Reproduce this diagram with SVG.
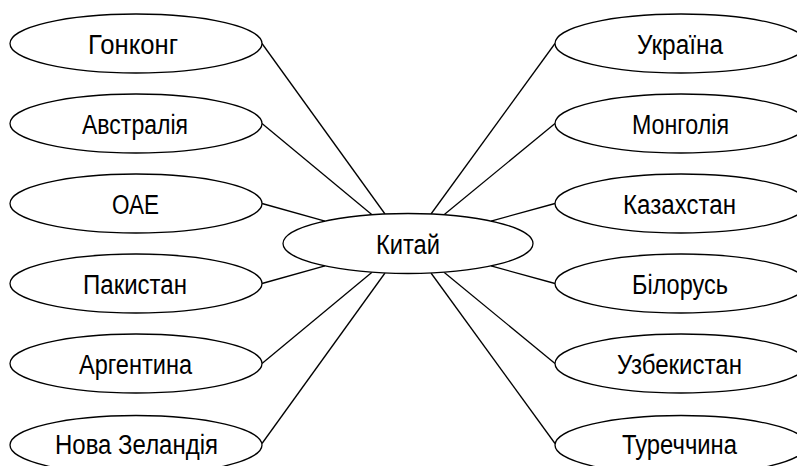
<svg xmlns="http://www.w3.org/2000/svg" width="797" height="466" viewBox="0 0 797 466">
<style>
.n ellipse{fill:#fff;stroke:#000;stroke-width:1.3}
.n text{font-family:"Liberation Sans",Arial,sans-serif;font-size:27px;fill:#000;text-anchor:middle}
#edges line{stroke:#000;stroke-width:1.3}
</style>
<rect width="797" height="466" fill="#fff"/>
<g id="edges">
<line x1="262" y1="43.5" x2="385" y2="214"/>
<line x1="262" y1="123.5" x2="372" y2="214.8"/>
<line x1="262" y1="203.5" x2="325" y2="221.1"/>
<line x1="262" y1="283.5" x2="325" y2="265.9"/>
<line x1="262" y1="363.5" x2="372" y2="272.2"/>
<line x1="262" y1="443.5" x2="385" y2="273"/>
<line x1="555" y1="43.5" x2="431" y2="214"/>
<line x1="555" y1="123.5" x2="444" y2="214.8"/>
<line x1="555" y1="203.5" x2="491" y2="221.1"/>
<line x1="555" y1="283.5" x2="491" y2="265.9"/>
<line x1="555" y1="363.5" x2="444" y2="272.2"/>
<line x1="555" y1="443.5" x2="431" y2="273"/>
</g>
<g id="china" class="n"><ellipse cx="408" cy="243.5" rx="125" ry="30"/><text x="408" y="253.5" textLength="64" lengthAdjust="spacingAndGlyphs">Китай</text></g>
<g id="hongkong" class="n"><ellipse cx="136" cy="43.5" rx="126" ry="29.5"/><text x="133" y="53.5" textLength="90" lengthAdjust="spacingAndGlyphs">Гонконг</text></g>
<g id="australia" class="n"><ellipse cx="136" cy="123.5" rx="126" ry="29.5"/><text x="135" y="133.5" textLength="106" lengthAdjust="spacingAndGlyphs">Австралія</text></g>
<g id="uae" class="n"><ellipse cx="136" cy="203.5" rx="126" ry="29.5"/><text x="135.5" y="213.5" textLength="47" lengthAdjust="spacingAndGlyphs">ОАЕ</text></g>
<g id="pakistan" class="n"><ellipse cx="136" cy="283.5" rx="126" ry="29.5"/><text x="135" y="293.5" textLength="104" lengthAdjust="spacingAndGlyphs">Пакистан</text></g>
<g id="argentina" class="n"><ellipse cx="136" cy="363.5" rx="126" ry="29.5"/><text x="135.5" y="373.5" textLength="113" lengthAdjust="spacingAndGlyphs">Аргентина</text></g>
<g id="newzealand" class="n"><ellipse cx="136" cy="445" rx="126" ry="29.5"/><text x="136.5" y="454" textLength="163" lengthAdjust="spacingAndGlyphs">Нова Зеландія</text></g>
<g id="ukraine" class="n"><ellipse cx="681" cy="43.5" rx="126" ry="29.5"/><text x="680" y="53.5" textLength="86" lengthAdjust="spacingAndGlyphs">Україна</text></g>
<g id="mongolia" class="n"><ellipse cx="681" cy="123.5" rx="126" ry="29.5"/><text x="680.5" y="133.5" textLength="97" lengthAdjust="spacingAndGlyphs">Монголія</text></g>
<g id="kazakhstan" class="n"><ellipse cx="681" cy="203.5" rx="126" ry="29.5"/><text x="679.5" y="213.5" textLength="113" lengthAdjust="spacingAndGlyphs">Казахстан</text></g>
<g id="belarus" class="n"><ellipse cx="681" cy="283.5" rx="126" ry="29.5"/><text x="680" y="293.5" textLength="96" lengthAdjust="spacingAndGlyphs">Білорусь</text></g>
<g id="uzbekistan" class="n"><ellipse cx="681" cy="363.5" rx="126" ry="29.5"/><text x="679.5" y="373.5" textLength="125" lengthAdjust="spacingAndGlyphs">Узбекистан</text></g>
<g id="turkey" class="n"><ellipse cx="681" cy="445" rx="126" ry="29.5"/><text x="679.5" y="454" textLength="115" lengthAdjust="spacingAndGlyphs">Туреччина</text></g>
</svg>
